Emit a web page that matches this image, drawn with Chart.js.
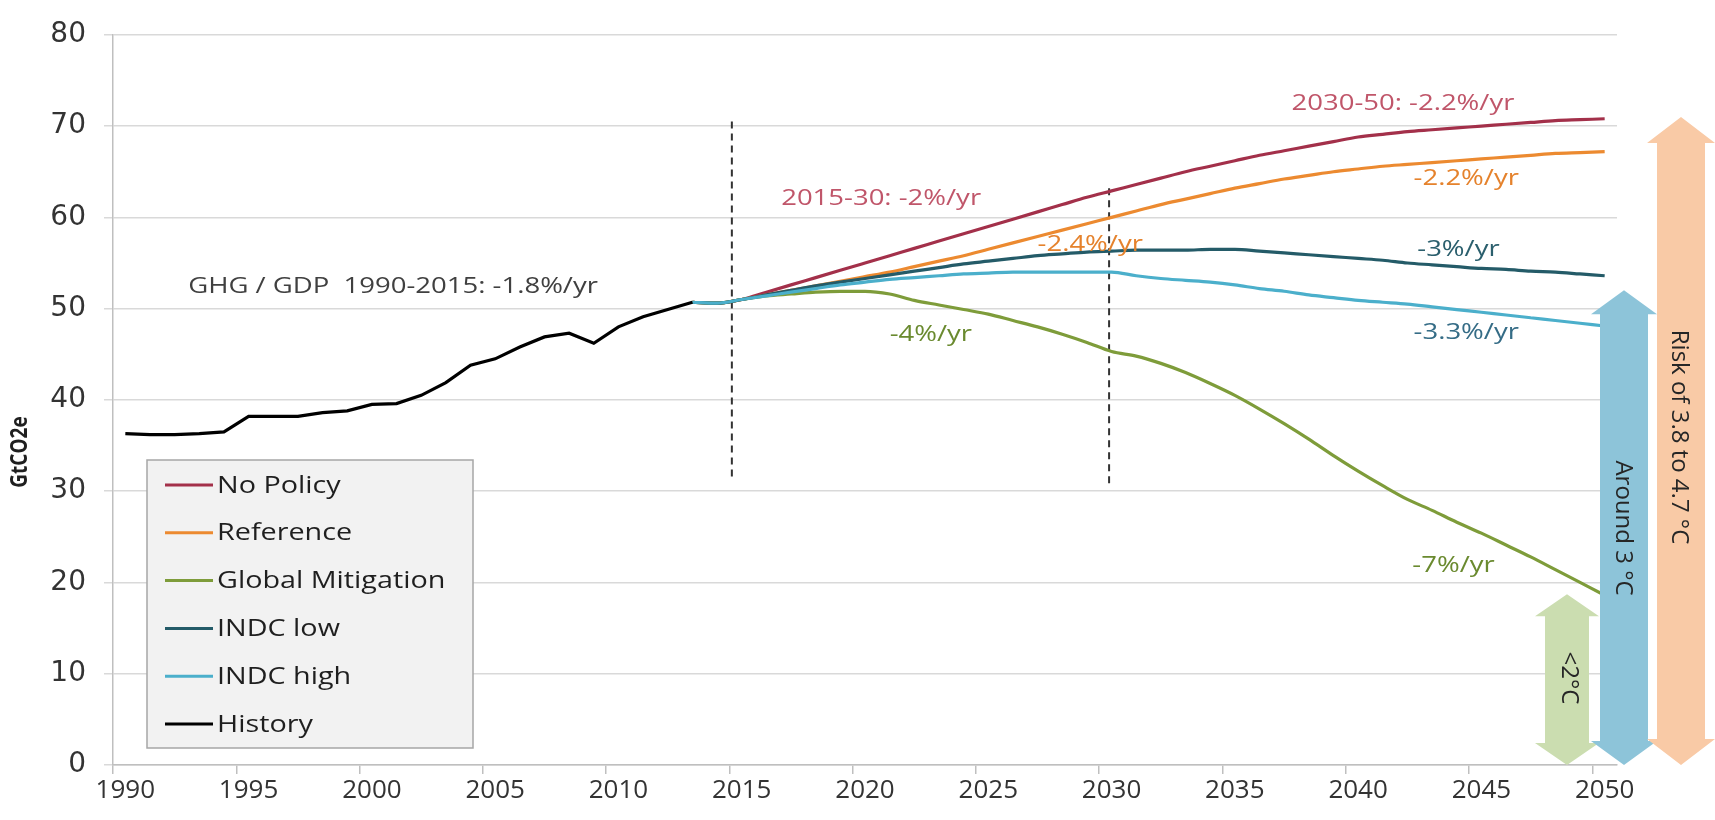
<!DOCTYPE html>
<html>
<head>
<meta charset="utf-8">
<script src="https://cdn.jsdelivr.net/npm/chart.js@4.4.1/dist/chart.umd.min.js"></script>
<style>
  html, body { margin: 0; padding: 0; background: #fff; }
  #wrap { width: 1715px; height: 820px; }
</style>
</head>
<body>
<div id="wrap"><canvas id="chart" width="1715" height="820"></canvas></div>
<script>
// Years on the category axis
const years = [
  1990, 1991, 1992, 1993, 1994, 1995, 1996, 1997, 1998, 1999,
  2000, 2001, 2002, 2003, 2004, 2005, 2006, 2007, 2008, 2009,
  2010, 2011, 2012, 2013, 2014, 2015, 2016, 2017, 2018, 2019,
  2020, 2021, 2022, 2023, 2024, 2025, 2026, 2027, 2028, 2029,
  2030, 2031, 2032, 2033, 2034, 2035, 2036, 2037, 2038, 2039,
  2040, 2041, 2042, 2043, 2044, 2045, 2046, 2047, 2048, 2049,
  2050
];

// History, 1990-2013 (GtCO2e)
const history = [
  36.3, 36.2, 36.2, 36.3, 36.5, 38.2, 38.2, 38.2, 38.6, 38.8,
  39.5, 39.6, 40.5, 41.9, 43.8, 44.5, 45.8, 46.9, 47.3, 46.2,
  48.0, 49.1, 49.9, 50.7
];

// Scenarios, 2013-2050
const scenarioStart = 2013;
const noPolicy = [
  50.7, 50.6, 51.0, 51.8, 52.6, 53.4, 54.2, 55.0, 55.8, 56.6,
  57.4, 58.2, 59.0, 59.8, 60.6, 61.4, 62.2, 62.9, 63.6, 64.3,
  65.0, 65.6, 66.2, 66.8, 67.3, 67.8, 68.3, 68.8, 69.1, 69.4,
  69.6, 69.8, 70.0, 70.2, 70.4, 70.6, 70.7, 70.8
];
const reference = [
  50.7, 50.6, 51.0, 51.5, 52.0, 52.5, 53.0, 53.5, 54.0, 54.6,
  55.2, 55.8, 56.5, 57.2, 57.9, 58.6, 59.3, 60.0, 60.7, 61.4,
  62.0, 62.6, 63.2, 63.7, 64.2, 64.6, 65.0, 65.3, 65.6, 65.8,
  66.0, 66.2, 66.4, 66.6, 66.8, 67.0, 67.1, 67.2
];
const globalMitigation = [
  50.7, 50.6, 51.0, 51.4, 51.6, 51.8, 51.9, 51.9, 51.6, 50.9,
  50.4, 49.9, 49.4, 48.7, 48.0, 47.2, 46.3, 45.3, 44.8, 44.0,
  43.0, 41.8, 40.5, 39.0, 37.4, 35.7, 33.9, 32.2, 30.6, 29.1,
  27.9, 26.6, 25.4, 24.1, 22.8, 21.4, 20.0, 18.6
];
const indcLow = [
  50.7, 50.6, 51.0, 51.5, 52.0, 52.5, 52.9, 53.3, 53.7, 54.1,
  54.5, 54.9, 55.2, 55.5, 55.8, 56.0, 56.2, 56.3, 56.4, 56.4,
  56.4, 56.5, 56.5, 56.3, 56.1, 55.9, 55.7, 55.5, 55.3, 55.0,
  54.8, 54.6, 54.4, 54.3, 54.1, 54.0, 53.8, 53.6
];
const indcHigh = [
  50.7, 50.6, 51.0, 51.4, 51.8, 52.2, 52.6, 52.9, 53.2, 53.4,
  53.6, 53.8, 53.9, 54.0, 54.0, 54.0, 54.0, 54.0, 53.6, 53.3,
  53.1, 52.9, 52.6, 52.2, 51.9, 51.5, 51.2, 50.9, 50.7, 50.5,
  50.2, 49.9, 49.6, 49.3, 49.0, 48.7, 48.4, 48.1
];

// line up a series that starts at a given year with the year axis
function alignToYears(values, firstYear) {
  return years.map(y => {
    const i = y - firstYear;
    return i >= 0 && i < values.length ? values[i] : null;
  });
}

const TEXT_STRETCH = 1.25;

function stretchedText(ctx, text, x, y, sx) {
  ctx.save();
  ctx.translate(x, y);
  ctx.scale(sx, 1);
  ctx.fillText(text, 0, 0);
  ctx.restore();
}

function upDownArrow(ctx, cx, yTop, yBot, shaftHalf, headHalf, headLen, color) {
  ctx.save();
  ctx.fillStyle = color;
  ctx.beginPath();
  ctx.moveTo(cx, yTop);
  ctx.lineTo(cx + headHalf, yTop + headLen);
  ctx.lineTo(cx + shaftHalf, yTop + headLen);
  ctx.lineTo(cx + shaftHalf, yBot - headLen);
  ctx.lineTo(cx + headHalf, yBot - headLen);
  ctx.lineTo(cx, yBot);
  ctx.lineTo(cx - headHalf, yBot - headLen);
  ctx.lineTo(cx - shaftHalf, yBot - headLen);
  ctx.lineTo(cx - shaftHalf, yTop + headLen);
  ctx.lineTo(cx - headHalf, yTop + headLen);
  ctx.closePath();
  ctx.fill();
  ctx.restore();
}

function rotatedText(ctx, text, x, y, font, color) {
  ctx.save();
  ctx.translate(x, y);
  ctx.rotate(Math.PI / 2);
  ctx.font = font;
  ctx.fillStyle = color;
  ctx.textAlign = 'center';
  ctx.textBaseline = 'middle';
  ctx.fillText(text, 0, 0);
  ctx.restore();
}

// x position between categories: year can be fractional
function xForYear(xs, year) {
  const i = Math.floor(year) - years[0];
  const a = xs.getPixelForValue(i);
  const b = xs.getPixelForValue(i + 1);
  return a + (b - a) * (year - Math.floor(year));
}

const annotations = [
  { text: 'GHG / GDP  1990-2015: -1.8%/yr', year: 1992.55, value: 52.4, color: '#404040' },
  { text: '2015-30: -2%/yr', year: 2016.6, value: 62.0, color: '#C0566A' },
  { text: '2030-50: -2.2%/yr', year: 2037.3, value: 72.4, color: '#C0566A' },
  { text: '-2.2%/yr', year: 2042.25, value: 64.2, color: '#E5822C' },
  { text: '-2.4%/yr', year: 2027.0, value: 57.05, color: '#E5822C' },
  { text: '-3%/yr', year: 2042.4, value: 56.5, color: '#2B5F6D' },
  { text: '-3.3%/yr', year: 2042.25, value: 47.4, color: '#356C86' },
  { text: '-4%/yr', year: 2021.0, value: 47.1, color: '#6A8A2F' },
  { text: '-7%/yr', year: 2042.2, value: 21.85, color: '#6A8A2F' }
];

const dividers = [
  { year: 2014.6, from: 31.2, to: 70.5 },
  { year: 2029.9, from: 30.7, to: 63.2 }
];

const extrasPlugin = {
  id: 'extras',
  beforeDatasetsDraw(chart) {
    const { ctx, scales: { x, y } } = chart;
    ctx.save();
    ctx.strokeStyle = '#333333';
    ctx.lineWidth = 2;
    ctx.setLineDash([7, 5]);
    dividers.forEach(d => {
      const px = xForYear(x, d.year);
      ctx.beginPath();
      ctx.moveTo(px, y.getPixelForValue(d.to));
      ctx.lineTo(px, y.getPixelForValue(d.from));
      ctx.stroke();
    });
    ctx.restore();
  },
  afterDatasetsDraw(chart) {
    const { ctx, scales: { x, y } } = chart;

    // growth-rate labels
    ctx.save();
    ctx.font = '22px "Open Sans"';
    ctx.textBaseline = 'middle';
    ctx.textAlign = 'left';
    annotations.forEach(a => {
      ctx.fillStyle = a.color;
      stretchedText(ctx, a.text, xForYear(x, a.year), y.getPixelForValue(a.value), TEXT_STRETCH);
    });
    ctx.restore();

    // temperature arrows
    const base = y.getPixelForValue(0);
    upDownArrow(ctx, 1567, y.getPixelForValue(18.7), base, 22, 32, 22, '#CBDDB0');
    upDownArrow(ctx, 1624, y.getPixelForValue(52.0), base, 24, 33, 24, '#8DC4D9');
    upDownArrow(ctx, 1681, y.getPixelForValue(71.0), base, 24, 34, 26, '#F9CAA6');
    rotatedText(ctx, '<2°C', 1569, 678, '24px "Open Sans"', '#262626');
    rotatedText(ctx, 'Around 3 °C', 1623, 528, '24px "Open Sans"', '#262626');
    rotatedText(ctx, 'Risk of 3.8 to 4.7 °C', 1679, 437, '24px "Open Sans"', '#262626');

    // legend box
    ctx.save();
    ctx.fillStyle = '#F2F2F2';
    ctx.strokeStyle = '#A6A6A6';
    ctx.lineWidth = 1.5;
    ctx.fillRect(147, 460, 326, 288);
    ctx.strokeRect(147, 460, 326, 288);
    ctx.font = '23px "Open Sans"';
    ctx.textBaseline = 'middle';
    chart.data.datasets.forEach((ds, i) => {
      const cy = 485 + i * 47.8;
      ctx.strokeStyle = ds.borderColor;
      ctx.lineWidth = 3;
      ctx.beginPath();
      ctx.moveTo(165, cy);
      ctx.lineTo(213, cy);
      ctx.stroke();
      ctx.fillStyle = '#1F1F1F';
      stretchedText(ctx, ds.label, 217, cy + 1, TEXT_STRETCH);
    });
    ctx.restore();

    // y axis title
    ctx.save();
    ctx.translate(21, 452);
    ctx.rotate(-Math.PI / 2);
    ctx.scale(1, 1.2);
    ctx.font = 'bold 19px "Open Sans"';
    ctx.fillStyle = '#1F1F1F';
    ctx.textAlign = 'center';
    ctx.textBaseline = 'middle';
    ctx.fillText('GtCO2e', 0, 0);
    ctx.restore();
  }
};

const lineBase = { borderWidth: 3.2, pointRadius: 0, fill: false, spanGaps: false, cubicInterpolationMode: 'monotone' };

new Chart(document.getElementById('chart'), {
  type: 'line',
  data: {
    labels: years.map(String),
    datasets: [
      { ...lineBase, label: 'No Policy', data: alignToYears(noPolicy, scenarioStart), borderColor: '#A3304A', order: 5 },
      { ...lineBase, label: 'Reference', data: alignToYears(reference, scenarioStart), borderColor: '#EC8A30', order: 4 },
      { ...lineBase, label: 'Global Mitigation', data: alignToYears(globalMitigation, scenarioStart), borderColor: '#7E9C3A', order: 3 },
      { ...lineBase, label: 'INDC low', data: alignToYears(indcLow, scenarioStart), borderColor: '#245B68', order: 2 },
      { ...lineBase, label: 'INDC high', data: alignToYears(indcHigh, scenarioStart), borderColor: '#4BAFCB', order: 1 },
      { ...lineBase, label: 'History', data: alignToYears(history, years[0]), borderColor: '#000000', cubicInterpolationMode: 'default', tension: 0, order: 0 }
    ]
  },
  options: {
    responsive: false,
    animation: false,
    layout: { padding: { top: 22, right: 98, left: 0, bottom: 0 } },
    plugins: {
      legend: { display: false },
      tooltip: { enabled: false }
    },
    scales: {
      x: {
        type: 'category',
        offset: true,
        grid: {
          offset: true,
          drawOnChartArea: false,
          tickLength: 9,
          lineWidth: 1.5,
          color: c => (c.index % 5 === 0 && c.index < years.length) ? '#BFBFBF' : 'rgba(0,0,0,0)'
        },
        border: { color: '#BFBFBF', width: 1.5 },
        ticks: {
          autoSkip: false,
          maxRotation: 0,
          padding: 1,
          color: '#333333',
          font: { family: 'Open Sans', size: 26 },
          callback: (v, i) => (years[i] % 5 === 0 ? String(years[i]) : '')
        },
        afterFit: s => { s.height = 55; }
      },
      y: {
        min: 0,
        max: 80,
        ticks: {
          stepSize: 10,
          padding: 18,
          color: '#333333',
          font: { family: 'DejaVu Sans', size: 28 }
        },
        grid: { color: '#D9D9D9', lineWidth: 1.5, tickLength: 9 },
        border: { color: '#BFBFBF', width: 1.5 },
        afterFit: s => { s.width = 113; }
      }
    }
  },
  plugins: [extrasPlugin]
});
</script>
</body>
</html>
